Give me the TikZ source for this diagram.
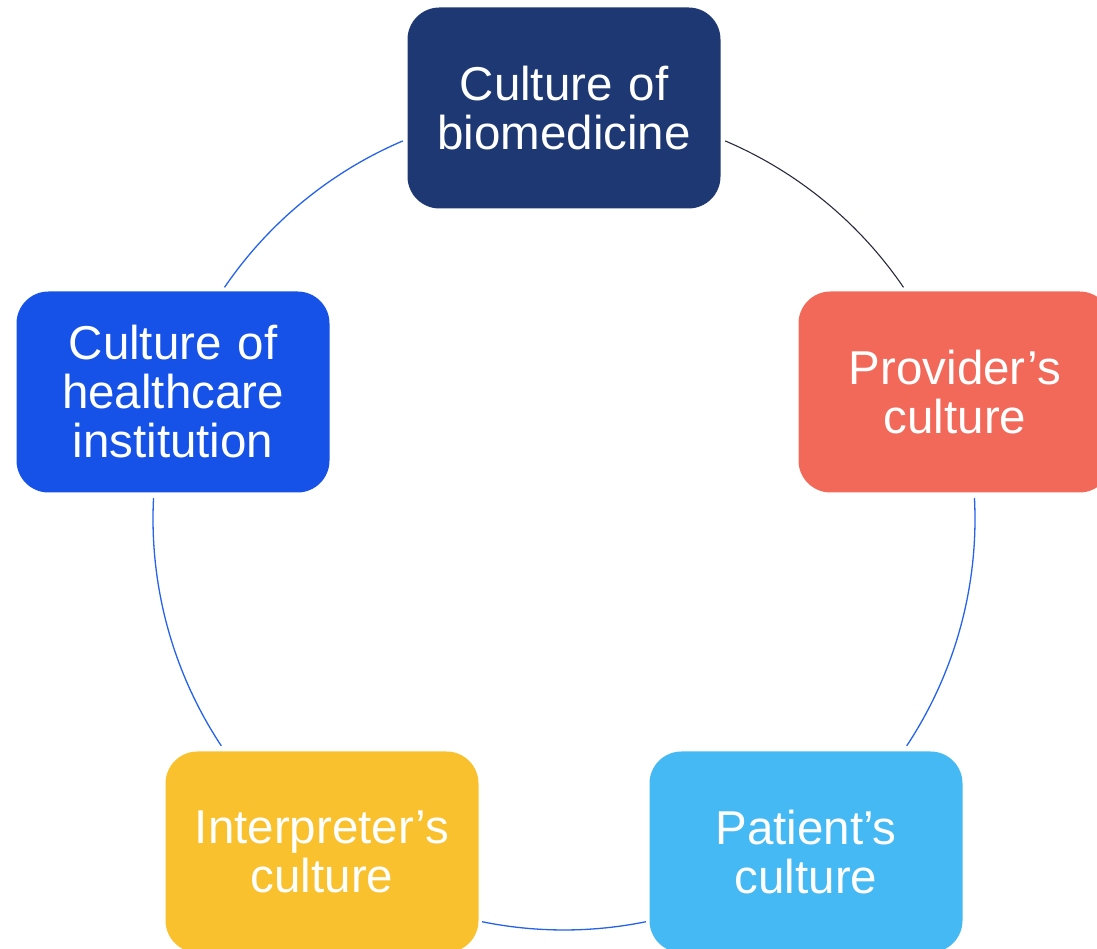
\documentclass[tikz,border=0pt]{standalone}
\usepackage{fontspec}
\setmainfont{Liberation Sans}
\usetikzlibrary{calc}
\definecolor{cnavy}{HTML}{1E3873}
\definecolor{ccoral}{HTML}{F2695A}
\definecolor{csky}{HTML}{45B9F3}
\definecolor{cyel}{HTML}{FAC12E}
\definecolor{cblue}{HTML}{1652E8}
\definecolor{arcblue}{HTML}{2563EB}
\definecolor{arcdark}{HTML}{2A2A3E}
\tikzset{
  box/.style={rounded corners=32pt, minimum width=313pt, minimum height=201pt,
    text width=300pt, align=center, inner sep=0pt, text=white,
    font=\fontsize{47.5}{49}\selectfont},
  ring/.style={line width=1.3pt, draw=arcblue},
}
\begin{document}
\begin{tikzpicture}[x=1pt,y=1pt]
\useasboundingbox (0,0) rectangle (1097,949);
\coordinate (C) at (564,430);
% ring arcs
\coordinate (a1) at ($(C)+(66.9:411pt)$);
\coordinate (a2) at ($(C)+(2.9:411pt)$);
\coordinate (a3) at ($(C)+(-78.5:411pt)$);
\coordinate (a4) at ($(C)+(-146.5:411pt)$);
\coordinate (a5) at ($(C)+(145.7:411pt)$);
\draw[ring, draw=arcdark, line width=1.1pt] (a1) arc[start angle=66.9, end angle=34.3, radius=411pt];
\draw[ring] (a2) arc[start angle=2.9, end angle=-33.5, radius=411pt];
\draw[ring] (a3) arc[start angle=-78.5, end angle=-101.5, radius=411pt];
\draw[ring] (a4) arc[start angle=-146.5, end angle=-182.9, radius=411pt];
\draw[ring] (a5) arc[start angle=145.7, end angle=113.1, radius=411pt];
% boxes
\node[box, fill=cnavy] (bio) at (564,841) {Culture of\\biomedicine};
\node[box, fill=ccoral] (prov) at (955,557) {Provider’s\\culture};
\node[box, fill=csky] (pat) at (806,97) {Patient’s\\culture};
\node[box, fill=cyel] (interp) at (322,97) {Interpreter’s\\culture};
\node[box, fill=cblue] (inst) at (173,557) {Culture of\\healthcare\\institution};
\end{tikzpicture}
\end{document}
